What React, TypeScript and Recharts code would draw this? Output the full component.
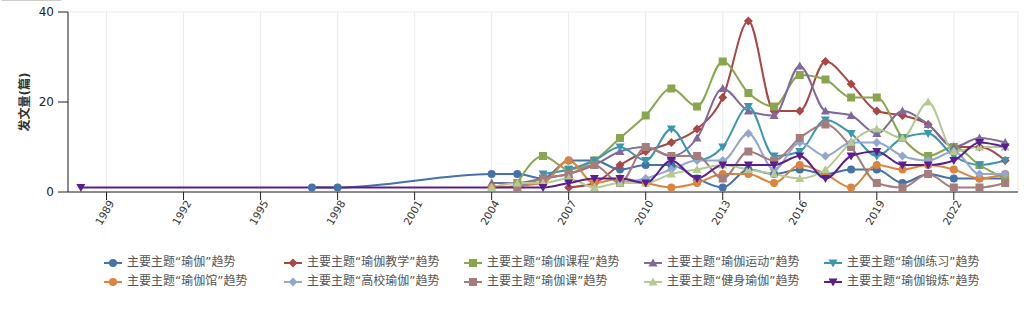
import React from 'react';
import { LineChart, Line, XAxis, YAxis, CartesianGrid, Legend } from 'recharts';

const N = null;

const years = [
  1988, 1989, 1990, 1991, 1992, 1993, 1994, 1995, 1996, 1997, 1998, 1999, 2000,
  2001, 2002, 2003, 2004, 2005, 2006, 2007, 2008, 2009, 2010, 2011, 2012, 2013,
  2014, 2015, 2016, 2017, 2018, 2019, 2020, 2021, 2022, 2023, 2024,
];
const tickYears = [1989, 1992, 1995, 1998, 2001, 2004, 2007, 2010, 2013, 2016, 2019, 2022];
const yTicks = [0, 20, 40];
const gridTicks = [0, 4, 8, 12, 16, 20, 24, 28, 32, 36, 40];

// 1988..2003 then 2004..2024
const yoga = [N, N, N, N, N, N, N, N, N, 1, 1, N, N, N, N, N,
  4, 4, 3, 7, 7, 5, 6, 6, 3, 1, 5, 4, 5, 4, 5, 5, 2, 4, 3, 3, 3];
const yogaTeaching = [N, N, N, N, N, N, N, N, N, N, N, N, N, N, N, N,
  N, N, N, 1, 2, 6, 9, 11, 14, 21, 38, 18, 18, 29, 24, 18, 17, 15, 10, 10, 7];
const yogaCourse = [N, N, N, N, N, N, N, N, N, N, N, N, N, N, N, N,
  N, 2, 8, 5, 7, 12, 17, 23, 19, 29, 22, 19, 26, 25, 21, 21, 12, 8, 10, 6, 3];
const yogaSport = [N, N, N, N, N, N, N, N, N, N, N, N, N, N, N, N,
  2, 2, 3, 4, 6, 9, 10, 8, 12, 23, 18, 17, 28, 18, 17, 13, 18, 15, 10, 12, 11];
const yogaPractice = [N, N, N, N, N, N, N, N, N, N, N, N, N, N, N, N,
  N, N, 4, 5, 7, 10, 7, 14, 7, 10, 19, 8, 9, 16, 13, 8, 12, 13, 8, 6, 7];
const yogaStudio = [N, N, N, N, N, N, N, N, N, N, N, N, N, N, N, N,
  1, N, 2, 7, 2, 3, 2, 1, 2, 4, 4, 2, 6, 4, 1, 6, 5, 6, 5, 3, 4];
const collegeYoga = [N, N, N, N, N, N, N, N, N, N, N, N, N, N, N, N,
  N, N, N, N, N, 2, 3, 5, 7, 7, 13, 5, 11, 8, 11, 11, 8, 7, 9, 4, 4];
const yogaClass = [N, N, N, N, N, N, N, N, N, N, N, N, N, N, N, N,
  N, 1, 3, 4, 6, 2, 10, 8, 8, 3, 9, 7, 12, 15, 10, 2, 1, 4, 1, 1, 2];
const fitnessYoga = [N, N, N, N, N, N, N, N, N, N, N, N, N, N, N, N,
  1, 2, 2, 3, 1, 2, 2, 4, 5, 6, 5, 4, 3, 5, 11, 14, 12, 20, 9, 10, 10];
const yogaExercise = [1, N, N, N, N, N, N, N, N, N, N, N, N, N, N, N,
  N, N, 1, 2, 3, 3, 2, 7, 3, 6, 6, 6, 8, 3, 8, 9, 6, 6, 7, 11, 10];

const seriesNames = [
  '主要主题“瑜伽”趋势', '主要主题“瑜伽教学”趋势', '主要主题“瑜伽课程”趋势', '主要主题“瑜伽运动”趋势', '主要主题“瑜伽练习”趋势',
  '主要主题“瑜伽馆”趋势', '主要主题“高校瑜伽”趋势', '主要主题“瑜伽课”趋势', '主要主题“健身瑜伽”趋势', '主要主题“瑜伽锻炼”趋势',
];
const seriesValues = [yoga, yogaTeaching, yogaCourse, yogaSport, yogaPractice, yogaStudio, collegeYoga, yogaClass, fitnessYoga, yogaExercise];
const colors = ['#4572A7', '#AA4643', '#89A54E', '#80699B', '#3D96AE', '#DB843D', '#92A8CD', '#A47D7C', '#B5CA92', '#5B1E8E'];
const shapes = ['circle', 'diamond', 'square', 'triangle', 'triangleDown', 'circle', 'diamond', 'square', 'triangle', 'triangleDown'];

const data = years.map((year, i) => {
  const row: Record<string, number | null> = { year };
  seriesValues.forEach((vals, k) => {
    row['s' + k] = vals[i];
  });
  return row;
});

const FONT = '"DejaVu Sans", "Noto Sans CJK SC", sans-serif';

function Marker({ shape, cx, cy, color }: { shape: string; cx: number; cy: number; color: string }) {
  if (shape === 'circle') return <circle cx={cx} cy={cy} r={4} fill={color} />;
  if (shape === 'square') return <rect x={cx - 4} y={cy - 4} width={8} height={8} fill={color} />;
  if (shape === 'diamond')
    return <path d={`M${cx},${cy - 4.5}L${cx + 4.5},${cy}L${cx},${cy + 4.5}L${cx - 4.5},${cy}Z`} fill={color} />;
  if (shape === 'triangle')
    return <path d={`M${cx},${cy - 4.5}L${cx + 4.5},${cy + 3.5}L${cx - 4.5},${cy + 3.5}Z`} fill={color} />;
  return <path d={`M${cx - 4.5},${cy - 3.5}L${cx + 4.5},${cy - 3.5}L${cx},${cy + 4.5}Z`} fill={color} />;
}

const makeDot = (k: number) => (props: any) => {
  const { cx, cy, index, value } = props;
  if (cx == null || cy == null || value == null || Number.isNaN(cy)) return <g key={`d${k}-${index}`} />;
  return (
    <g key={`d${k}-${index}`}>
      <Marker shape={shapes[k]} cx={cx} cy={cy} color={colors[k]} />
    </g>
  );
};

const XTick = (props: any) => {
  const { x, y, payload } = props;
  return (
    <g transform={`translate(${x + 5},${y - 1})`}>
      <text x={0} y={0} dy="0.35em" textAnchor="end" transform="rotate(-60)" fontSize={10.5} fill="#333" fontFamily={FONT}>
        {payload.value}
      </text>
    </g>
  );
};

const YLabel = (props: any) => {
  const { viewBox } = props;
  const cx = viewBox.x + 25;
  const cy = viewBox.y + viewBox.height / 2;
  return (
    <text x={cx} y={cy} transform={`rotate(-90, ${cx}, ${cy})`} textAnchor="middle" dominantBaseline="central"
      fontSize={12} fontWeight="bold" fill="#333" fontFamily={FONT}>
      发文量(篇)
    </text>
  );
};

const LegendContent = () => (
  <div style={{ height: 62, boxSizing: 'border-box', paddingTop: 4, paddingLeft: 104, display: 'flex', flexWrap: 'wrap', alignContent: 'flex-start', alignItems: 'flex-start', width: 1024, fontFamily: FONT }}>
    {seriesNames.map((name, k) => (
      <div key={name} style={{ width: 180, height: 19, display: 'flex', alignItems: 'center' }}>
        <svg width={18} height={12} style={{ display: 'block' }}>
          <line x1={0} y1={6} x2={18} y2={6} stroke={colors[k]} strokeWidth={2} />
          <Marker shape={shapes[k]} cx={9} cy={6} color={colors[k]} />
        </svg>
        <span style={{ marginLeft: 5, fontSize: 12, lineHeight: '19px', color: '#555', whiteSpace: 'nowrap' }}>{name}</span>
      </div>
    ))}
  </div>
);

export default function App() {
  return (
    <div style={{ position: 'absolute', left: 0, top: 0, width: 1024, height: 311, fontFamily: FONT, overflow: 'hidden', background: '#fff' }}>
      <div style={{ position: 'absolute', left: 0, top: -20, width: 63, height: 21, border: '1px solid #ccc', borderRadius: 3, boxSizing: 'border-box' }} />
      <LineChart width={1024} height={311} data={data} margin={{ top: 12, right: 6, left: 0, bottom: 0 }}>
        <CartesianGrid yAxisId="grid" stroke="#ebebeb" strokeWidth={1} />
        <XAxis dataKey="year" type="number" domain={[1987.5, 2024.5]} ticks={tickYears} interval={0}
          tick={<XTick />} tickSize={8} tickMargin={2} height={57}
          axisLine={{ stroke: '#222' }} tickLine={{ stroke: '#222' }} allowDataOverflow />
        <YAxis domain={[0, 40]} ticks={yTicks} width={68} tickSize={10} tickMargin={4}
          tick={{ fontSize: 12, fill: '#222', fontFamily: FONT }}
          axisLine={{ stroke: '#222' }} tickLine={{ stroke: '#222' }} label={<YLabel />} />
        <YAxis yAxisId="grid" domain={[0, 40]} ticks={gridTicks} hide />
        <Legend verticalAlign="bottom" content={<LegendContent />} />
        {seriesNames.map((name, k) => (
          <Line key={name} name={name} type="monotone" dataKey={'s' + k} stroke={colors[k]} strokeWidth={2}
            dot={makeDot(k)} activeDot={false} connectNulls isAnimationActive={false} />
        ))}
      </LineChart>
    </div>
  );
}
